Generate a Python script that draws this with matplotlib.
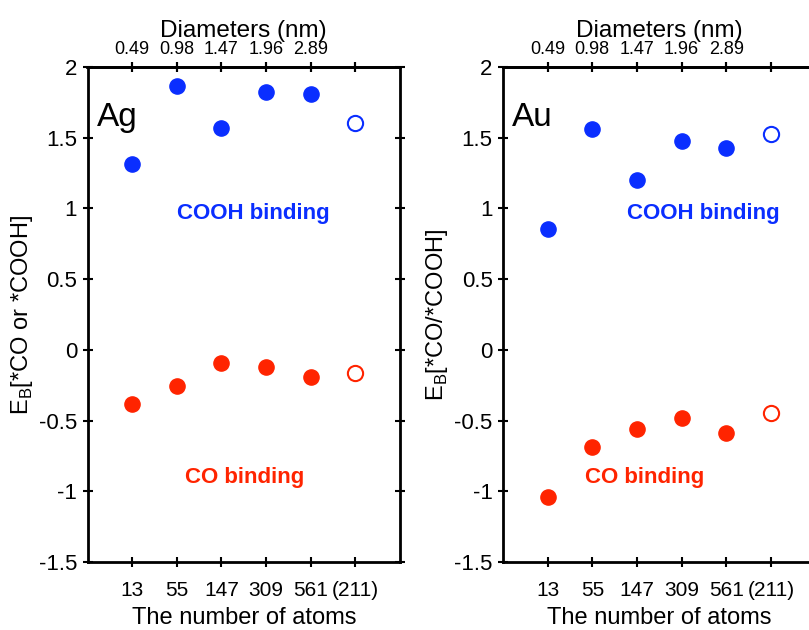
import matplotlib.pyplot as plt

plt.rcParams['font.family'] = ['Liberation Sans', 'DejaVu Sans']

# ===================== data =====================
atoms = ['13', '55', '147', '309', '561', '(211)']
diameters = ['0.49', '0.98', '1.47', '1.96', '2.89', '']

ag_cooh = [1.315, 1.867, 1.57, 1.825, 1.81]
ag_cooh_211 = 1.605
ag_co = [-0.382, -0.255, -0.092, -0.12, -0.19]
ag_co_211 = -0.163

au_cooh = [0.856, 1.563, 1.20, 1.478, 1.43]
au_cooh_211 = 1.528
au_co = [-1.04, -0.686, -0.559, -0.48, -0.587]
au_co_211 = -0.446

BLUE = '#0a2eff'
RED = '#ff2400'

fig = plt.figure(figsize=(8.09, 6.3), dpi=100)
W, H = 809, 630

def px_axes(x0, y0, x1, y1):
    return fig.add_axes([x0 / W, 1 - y1 / H, (x1 - x0) / W, (y1 - y0) / H])

ax1 = px_axes(87.5, 67, 400, 562)
ax2 = px_axes(503, 67, 815.5, 562)

panels = [
    (ax1, 'Ag', ag_cooh, ag_cooh_211, ag_co, ag_co_211,
     'E$_\\mathregular{B}$[*CO or *COOH]', (253, 214), (245, 477)),
    (ax2, 'Au', au_cooh, au_cooh_211, au_co, au_co_211,
     'E$_\\mathregular{B}$[*CO/*COOH]', (703, 214), (645, 477)),
]

pos = list(range(1, 7))
for ax, name, cooh, cooh211, co, co211, ylab, p_cooh, p_co in panels:
    ax.scatter(pos[:5], cooh, s=120, color=BLUE, zorder=3)
    ax.scatter(pos[5], cooh211, s=120, facecolor='white', edgecolor=BLUE, linewidth=1.5, zorder=3)
    ax.scatter(pos[:5], co, s=120, color=RED, zorder=3)
    ax.scatter(pos[5], co211, s=120, facecolor='white', edgecolor=RED, linewidth=1.5, zorder=3)

    ax.set_xlim(0, 7)
    ax.set_ylim(-1.5, 2)
    ax.set_xticks(pos)
    ax.set_xticklabels(atoms)
    ax.set_yticks([-1.5, -1, -0.5, 0, 0.5, 1, 1.5, 2])
    ax.set_yticklabels(['-1.5', '-1', '-0.5', '0', '0.5', '1', '1.5', '2'])
    ax.tick_params(direction='inout', length=7, width=1.5,
                   top=True, right=True, pad=4)
    ax.tick_params(axis='y', labelsize=16)
    ax.tick_params(axis='x', labelsize=15, pad=10)
    for s in ax.spines.values():
        s.set_linewidth(2)

    top = ax.secondary_xaxis('top')
    top.set_xticks(pos)
    top.set_xticklabels(diameters)
    top.tick_params(direction='inout', length=7, width=1.5, labelsize=13, pad=3)
    top.set_xlabel('Diameters (nm)', fontsize=17.5, labelpad=3)
    top.spines['top'].set_linewidth(2)

    ax.set_xlabel('The number of atoms', fontsize=17, labelpad=5)
    ax.set_ylabel(ylab, fontsize=17, labelpad=3)
    ax.text(0.03, 0.93, name, transform=ax.transAxes, fontsize=24, va='top', ha='left')

    ax.text(p_cooh[0] / W, 1 - p_cooh[1] / H, 'COOH binding', transform=fig.transFigure,
            color=BLUE, fontsize=16, fontweight='bold', ha='center', va='center')
    ax.text(p_co[0] / W, 1 - p_co[1] / H, 'CO binding', transform=fig.transFigure,
            color=RED, fontsize=16, fontweight='bold', ha='center', va='center')

fig.savefig('out.png', dpi=100)
